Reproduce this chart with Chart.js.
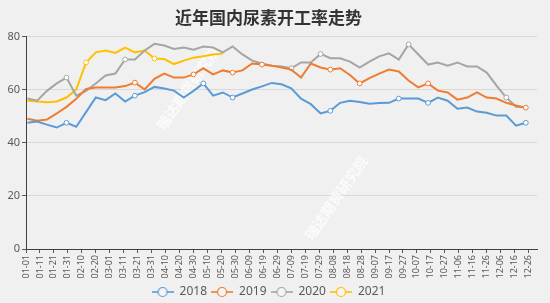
<!DOCTYPE html>
<html>
<head>
<meta charset="utf-8">
<script src="https://cdn.jsdelivr.net/npm/chart.js@4.4.0/dist/chart.umd.min.js"></script>
<style>
    html, body { margin: 0; padding: 0; background: #f0f0f0; }
    #wrap { width: 550px; height: 303px; position: relative; }
</style>
</head>
<body>
<div id="wrap"><canvas id="chart"></canvas></div>
<script>
    // Weekly operating rate (%), one value per week starting at early January
    const seriesNames = ["2018", "2019", "2020", "2021"];
    const rate2018 = [47.5, 48, 46.8, 45.7, 47.5, 46, 51.5, 57, 56, 58.5, 55.5, 57.7, 59, 61, 60.4, 59.6, 57, 59.5, 62.3, 57.7,
        58.9, 57, 58.5, 60, 61.2, 62.5, 62, 60.5, 56.6, 54.5, 51, 52, 55, 55.8, 55.3, 54.7, 54.9, 55, 56.6, 56.6,
        56.6, 55, 57, 55.8, 52.8, 53.2, 51.7, 51.3, 50.2, 50.2, 46.4, 47.5];
    const rate2019 = [49, 48.3, 48.7, 51, 53.5, 56.5, 60.2, 60.8, 60.8, 60.8, 61.3, 62.6, 60, 64, 66, 64.5, 64.5, 65.7, 68, 65.7,
        67.2, 66.4, 67.2, 69.8, 69.4, 69, 68.3, 67.5, 64.5, 69.8, 68.3, 67.5, 68, 65.5, 62.3, 64.3, 66, 67.5, 66.8, 63.4,
        60.8, 62.3, 59.6, 58.9, 56.2, 57, 58.9, 57, 56.6, 55, 54, 53.2];
    const rate2020 = [56.6, 55.8, 59.5, 62.3, 64.5, 57.7, 59.5, 62.3, 65.3, 66, 71.3, 71.3, 74.7, 77.2, 76.6, 75.3, 75.8, 75, 76.2, 75.8,
        74, 76.2, 73.2, 70.9, 69.8, 69, 68.7, 68, 70.2, 70.2, 73.4, 71.8, 71.8, 70.5, 68.3, 70.5, 72.5, 73.6, 71.3, 77,
        73.2, 69.4, 70.2, 69, 70.2, 68.7, 68.7, 66.4, 61.5, 57, 53.5, 53.2];
    const rate2021 = [55.8, 55.5, 55.2, 55.5, 57, 60, 70.2, 74, 74.7, 73.8, 75.8, 74, 74.7, 71.7, 71.5, 69.6, 70.9, 72, 72.5, 73.2, 73.6];

    // weeks that carry a hollow marker
    const marks2018 = [4, 11, 18, 21, 31, 38, 41, 51];
    const marks2019 = [11, 17, 21, 24, 31, 34, 41, 51];
    const marks2020 = [4, 10, 27, 30, 39, 49];
    const marks2021 = [6, 13];

    const yTicks = [0, 20, 40, 60, 80];
    const xTickDays = [0, 10, 20, 30, 40, 50, 60, 70, 80, 90, 100, 110, 120, 130, 140, 150, 160, 170, 180,
        190, 200, 210, 220, 230, 240, 250, 260, 270, 280, 290, 300, 310, 320, 330, 340, 350, 360];
    const firstDay = 1;      // day-of-year of the first weekly value
    const lastDay = 366;

    const colors = ["#5b9bd5", "#ed7d31", "#a5a5a5", "#ffc000"];

    function toPoints(values) {
        return values.map((v, i) => ({ x: firstDay + i * 7, y: v }));
    }

    function dayLabel(day) {
        const d = new Date(2020, 0, 1 + day);
        const mm = String(d.getMonth() + 1).padStart(2, "0");
        const dd = String(d.getDate()).padStart(2, "0");
        return mm + "-" + dd;
    }

    // little "-o-" legend icon
    function legendIcon(color) {
        const c = document.createElement("canvas");
        c.width = 22;
        c.height = 12;
        const g = c.getContext("2d");
        g.strokeStyle = color;
        g.lineWidth = 1.6;
        g.beginPath();
        g.moveTo(0, 6);
        g.lineTo(22, 6);
        g.stroke();
        g.beginPath();
        g.arc(11, 6, 4.5, 0, Math.PI * 2);
        g.fillStyle = "#f4f4f4";
        g.fill();
        g.lineWidth = 1.2;
        g.stroke();
        return c;
    }

    const allRates = [rate2018, rate2019, rate2020, rate2021];
    const allMarks = [marks2018, marks2019, marks2020, marks2021];

    const datasets = seriesNames.map((name, k) => ({
        label: name,
        data: toPoints(allRates[k]),
        borderColor: colors[k],
        backgroundColor: colors[k],
        borderWidth: 2,
        tension: 0,
        pointRadius: ctx => allMarks[k].includes(ctx.dataIndex) ? 2.4 : 0,
        pointHoverRadius: 0,
        pointBackgroundColor: "#ffffff",
        pointBorderColor: colors[k],
        pointBorderWidth: 1
    }));

    // faint diagonal watermark
    const watermark = {
        id: "watermark",
        beforeDatasetsDraw(chart) {
            const ctx = chart.ctx;
            const spots = [[188, 88], [336, 198]];
            ctx.save();
            ctx.fillStyle = "rgba(255,255,255,0.75)";
            ctx.font = "bold 14px 'Noto Sans CJK SC'";
            ctx.textAlign = "center";
            ctx.textBaseline = "middle";
            spots.forEach(([x, y]) => {
                ctx.save();
                ctx.translate(x, y);
                ctx.rotate(-55 * Math.PI / 180);
                ctx.fillText("瑞达期货研究院", 0, 0);
                ctx.restore();
            });
            ctx.restore();
        }
    };

    new Chart(document.getElementById("chart"), {
        type: "line",
        data: { datasets },
        plugins: [watermark],
        options: {
            responsive: true,
            maintainAspectRatio: false,
            animation: false,
            layout: { padding: { left: 0, right: 13, top: 0, bottom: -5 } },
            plugins: {
                title: {
                    display: true,
                    text: "近年国内尿素开工率走势",
                    color: "#333333",
                    font: { family: "'Noto Sans CJK SC'", size: 17, weight: "bold" },
                    padding: { top: 7, bottom: 9 }
                },
                legend: {
                    position: "bottom",
                    labels: {
                        usePointStyle: true,
                        pointStyleWidth: 22,
                        color: "#595959",
                        font: { family: "'Noto Sans'", size: 12 },
                        padding: 4,
                        generateLabels(chart) {
                            const items = Chart.defaults.plugins.legend.labels.generateLabels(chart);
                            items.forEach((it, i) => { it.pointStyle = legendIcon(colors[i]); });
                            return items;
                        }
                    }
                },
                tooltip: { enabled: false }
            },
            scales: {
                x: {
                    type: "linear",
                    min: 0,
                    max: lastDay,
                    afterBuildTicks(scale) {
                        scale.ticks = xTickDays.map(v => ({ value: v }));
                    },
                    afterFit(scale) { scale.height = 33; },
                    ticks: {
                        autoSkip: false,
                        maxRotation: 90,
                        minRotation: 90,
                        padding: 2,
                        color: "#595959",
                        font: { family: "'Noto Sans'", size: 9 },
                        callback: value => dayLabel(value)
                    },
                    grid: { drawOnChartArea: false, tickLength: 4, tickColor: "#595959" },
                    border: { color: "#404040", width: 1 }
                },
                y: {
                    min: 0,
                    max: 80,
                    afterBuildTicks(scale) {
                        scale.ticks = yTicks.map(v => ({ value: v }));
                    },
                    afterFit(scale) { scale.width = 26; },
                    ticks: {
                        color: "#595959",
                        padding: 2,
                        font: { family: "'Noto Sans'", size: 11 }
                    },
                    grid: { color: "#d9d9d9", tickLength: 4, tickColor: "#595959" },
                    border: { color: "#404040", width: 1 }
                }
            }
        }
    });
</script>
</body>
</html>
